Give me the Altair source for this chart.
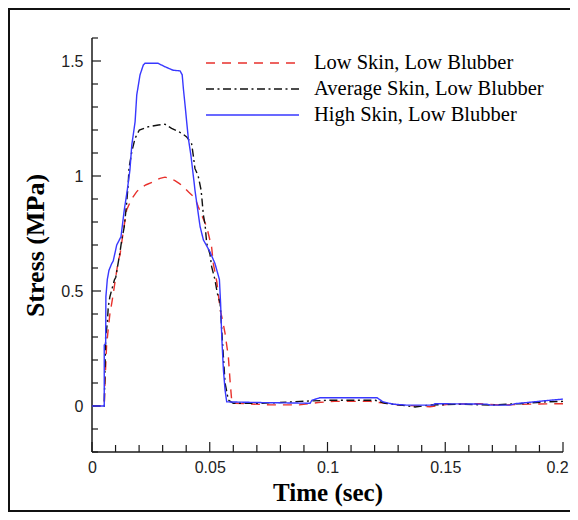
import altair as alt
import pandas as pd

# ---------------- data ----------------
series_names = ["Low Skin, Low Blubber", "Average Skin, Low Blubber", "High Skin, Low Blubber"]
series_colors = ["#e8312c", "#111111", "#3838ff"]
series_dashes = [[9, 7], [8, 3.5, 2, 3.5], [1, 0]]

t_low = [0.0, 0.0052, 0.0055, 0.0058, 0.0062, 0.0070, 0.0076, 0.0086, 0.0100, 0.0112,
         0.0119, 0.0133, 0.0147, 0.0168, 0.0190, 0.0204, 0.0230, 0.0260, 0.0289, 0.0310,
         0.0330, 0.0352, 0.0370, 0.0388, 0.0410, 0.0437, 0.0451, 0.0470, 0.0487, 0.0501,
         0.0508, 0.0515, 0.0530, 0.0536, 0.0544, 0.0555, 0.0565, 0.0579, 0.0586, 0.0593,
         0.0600, 0.0650, 0.0756, 0.0880, 0.0960, 0.1030, 0.1180, 0.1220, 0.1310, 0.1435,
         0.1520, 0.1650, 0.1730, 0.1860, 0.2000]
v_low = [0, 0, 0.10, 0.17, 0.265, 0.345, 0.40, 0.46, 0.555, 0.635,
         0.657, 0.76, 0.852, 0.90, 0.932, 0.947, 0.962, 0.975, 0.99, 0.995,
         0.99, 0.98, 0.968, 0.954, 0.93, 0.905, 0.867, 0.82, 0.78, 0.72,
         0.69, 0.62, 0.54, 0.49, 0.42, 0.37, 0.316, 0.214, 0.113, 0.026,
         0.012, 0.01, 0.005, 0.005, 0.015, 0.02, 0.02, 0.015, 0.004, -0.003,
         0.008, 0.01, 0.004, 0.008, 0.01]

t_avg = [0.0, 0.0052, 0.0055, 0.0058, 0.0065, 0.0069, 0.0076, 0.0095, 0.0101, 0.0119,
         0.0126, 0.0137, 0.0140, 0.0147, 0.0154, 0.0157, 0.0169, 0.0183, 0.0201, 0.0239,
         0.0282, 0.0310, 0.0338, 0.0381, 0.0402, 0.0423, 0.0430, 0.0437, 0.0451, 0.0463,
         0.0466, 0.0473, 0.0480, 0.0487, 0.0501, 0.0508, 0.0522, 0.0532, 0.0544, 0.0551,
         0.0558, 0.0565, 0.0579, 0.0600, 0.0713, 0.0798, 0.0883, 0.1010, 0.1202, 0.1244,
         0.1308, 0.1372, 0.1435, 0.1563, 0.1690, 0.1817, 0.1924, 0.2000]
v_avg = [0, 0, 0.15, 0.30, 0.36, 0.43, 0.475, 0.548, 0.56, 0.67,
         0.72, 0.78, 0.81, 0.88, 0.968, 1.033, 1.106, 1.164, 1.20, 1.214,
         1.222, 1.225, 1.207, 1.186, 1.17, 1.14, 1.09, 1.033, 1.0, 0.94,
         0.91, 0.83, 0.79, 0.707, 0.66, 0.606, 0.55, 0.49, 0.448, 0.33,
         0.214, 0.10, 0.026, 0.012, 0.012, 0.015, 0.02, 0.025, 0.025, 0.012,
         0.004, -0.004, 0.004, 0.008, 0.004, 0.01, 0.018, 0.02]

t_high = [0.0, 0.0052, 0.0052, 0.0058, 0.0059, 0.0065, 0.0072, 0.0084, 0.0090, 0.0105,
          0.0123, 0.0137, 0.0150, 0.0161, 0.0169, 0.0183, 0.0190, 0.0204, 0.0218, 0.0225,
          0.0280, 0.0310, 0.0344, 0.0374, 0.0383, 0.0388, 0.0395, 0.0402, 0.0409, 0.0420,
          0.0428, 0.0434, 0.0437, 0.0449, 0.0459, 0.0473, 0.0501, 0.0522, 0.0541, 0.0546,
          0.0551, 0.0558, 0.0565, 0.0572, 0.0713, 0.0926, 0.0934, 0.0968, 0.1210, 0.1236,
          0.1278, 0.1333, 0.1448, 0.1456, 0.1677, 0.1690, 0.1775, 0.1796, 0.1945, 0.2000]
v_high = [0, 0, 0.265, 0.27, 0.475, 0.55, 0.59, 0.62, 0.63, 0.70,
          0.736, 0.852, 0.94, 1.026, 1.135, 1.236, 1.352, 1.44, 1.483, 1.49,
          1.49, 1.475, 1.46, 1.457, 1.44, 1.38, 1.31, 1.236, 1.164, 1.09,
          1.02, 0.968, 0.94, 0.852, 0.78, 0.722, 0.67, 0.62, 0.55, 0.448,
          0.30, 0.157, 0.07, 0.018, 0.015, 0.012, 0.025, 0.036, 0.036, 0.018,
          0.008, 0.004, 0.004, 0.010, 0.008, 0.004, 0.004, 0.010, 0.025, 0.03]

x_major_ticks = [0, 0.05, 0.1, 0.15, 0.2]
x_minor_ticks = [0.01, 0.02, 0.03, 0.04, 0.06, 0.07, 0.08, 0.09, 0.11, 0.12,
                 0.13, 0.14, 0.16, 0.17, 0.18, 0.19]
y_major_ticks = [0, 0.5, 1, 1.5]
y_minor_ticks = [-0.2, -0.1, 0.1, 0.2, 0.3, 0.4, 0.6, 0.7, 0.8, 0.9,
                 1.1, 1.2, 1.3, 1.4, 1.6]

# ---------------- build tables ----------------
rows = []
for name, ts, vs in zip(series_names, [t_low, t_avg, t_high], [v_low, v_avg, v_high]):
    for i, (t, v) in enumerate(zip(ts, vs)):
        rows.append({"series": name, "t": t, "v": v, "idx": i})
df = pd.DataFrame(rows)

W, H = 471, 414
PAD_L, PAD_T, PAD_R, PAD_B = 84, 30, 7, 60
AXC = "#1a1a1a"
tick_font = "Liberation Sans Narrow, Liberation Sans, sans-serif"
serif = "Liberation Serif, Times New Roman, serif"

xs = alt.Scale(domain=[0, 0.2], nice=False, zero=False)
ys = alt.Scale(domain=[-0.2, 1.6], nice=False, zero=False)

x_axis = alt.Axis(
    values=x_major_ticks, format="~g", title="Time (sec)",
    ticks=False, tickSize=0, domain=False, grid=False, labelFlush=False,
    labelOffset={"condition": {"test": "datum.value > 0.19", "value": -6}, "value": 0},
    labelFont=tick_font, labelFontSize=16, labelColor="#222", labelPadding=7,
    titleFont=serif, titleFontSize=25, titleFontWeight="bold", titleColor="black",
    titleY=48, titleBaseline="alphabetic")
y_axis = alt.Axis(
    values=y_major_ticks, format="~g", title="Stress (MPa)",
    ticks=False, tickSize=0, domain=False, grid=False, labelFlush=False,
    labelFont=tick_font, labelFontSize=16, labelColor="#222", labelPadding=9,
    titleFont=serif, titleFontSize=26, titleFontWeight="bold", titleColor="black",
    titleX=-49, titleY=H / 2, titleAngle=270, titleAlign="center",
    titleBaseline="alphabetic")

leg = alt.Legend(
    title=None, orient="none", legendX=113, legendY=15,
    symbolType="stroke", symbolSize=8649, symbolStrokeWidth=1.4,
    labelFont=serif, labelFontSize=20.5, labelColor="black",
    labelOffset=14, clipHeight=20, rowPadding=5, padding=0, labelLimit=400,
)

lines = alt.Chart(df).mark_line(strokeWidth=1.4, clip=True).encode(
    x=alt.X("t:Q", scale=xs, axis=x_axis),
    y=alt.Y("v:Q", scale=ys, axis=y_axis),
    color=alt.Color("series:N", scale=alt.Scale(domain=series_names, range=series_colors), legend=leg),
    strokeDash=alt.StrokeDash("series:N", scale=alt.Scale(domain=series_names, range=series_dashes), legend=leg),
    order="idx:Q",
)

one = pd.DataFrame({"a": [0]})

# outer picture frame: left, top and bottom sides (right side lies outside the picture)
frame_l = alt.Chart(one).mark_rule(color="#111", strokeWidth=2).encode(
    x=alt.value(-PAD_L + 1), y=alt.value(-PAD_T + 1), y2=alt.value(H + PAD_B - 1))
frame_t = alt.Chart(one).mark_rule(color="#111", strokeWidth=2).encode(
    x=alt.value(-PAD_L), x2=alt.value(W + PAD_R), y=alt.value(-PAD_T + 1))
frame_b = alt.Chart(one).mark_rule(color="#111", strokeWidth=2).encode(
    x=alt.value(-PAD_L), x2=alt.value(W + PAD_R), y=alt.value(H + PAD_B - 1))

ydom = alt.Chart(one).mark_rule(color=AXC, strokeWidth=1.5).encode(
    x=alt.value(0), y=alt.value(0), y2=alt.value(H))
xdom = alt.Chart(one).mark_rule(color=AXC, strokeWidth=1.5).encode(
    x=alt.value(0), x2=alt.value(W), y=alt.value(H))

xmaj = alt.Chart(pd.DataFrame({"t": x_major_ticks})).mark_rule(color=AXC, strokeWidth=1.2).encode(
    x=alt.X("t:Q", scale=xs, axis=x_axis), y=alt.value(H), y2=alt.value(H - 10))
xmin = alt.Chart(pd.DataFrame({"t": x_minor_ticks})).mark_rule(color=AXC, strokeWidth=1.2).encode(
    x=alt.X("t:Q", scale=xs, axis=x_axis), y=alt.value(H), y2=alt.value(H - 7))
ymaj = alt.Chart(pd.DataFrame({"v": y_major_ticks})).mark_rule(color=AXC, strokeWidth=1.2).encode(
    y=alt.Y("v:Q", scale=ys, axis=y_axis), x=alt.value(0), x2=alt.value(9))
ymin = alt.Chart(pd.DataFrame({"v": y_minor_ticks})).mark_rule(color=AXC, strokeWidth=1.2).encode(
    y=alt.Y("v:Q", scale=ys, axis=y_axis), x=alt.value(0), x2=alt.value(6))

chart = alt.layer(frame_l, frame_t, frame_b, xdom, ydom, xmaj, xmin, ymaj, ymin, lines).properties(
    width=W, height=H,
    autosize=alt.AutoSizeParams(type="none"),
    padding={"left": PAD_L, "top": PAD_T, "right": PAD_R, "bottom": PAD_B},
).configure_view(stroke="transparent")

chart.save("out.html", embed_options={"renderer": "svg", "actions": False})
